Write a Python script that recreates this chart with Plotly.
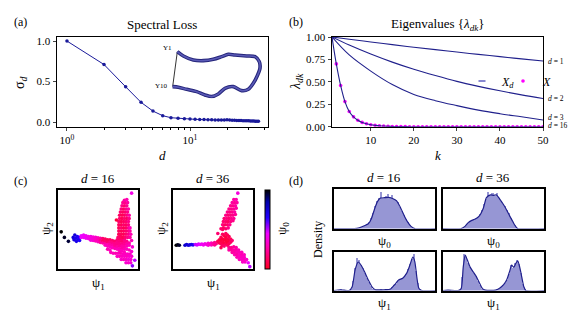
import plotly.graph_objects as go

W, H = 577, 314
SERIF = "Liberation Serif"
BLUE = "#1a1a9a"
LBLUE = "#20208c"
MAG = "#ff00ff"

def fx(px):
    return px / W

def fy(py):
    return 1 - py / H

# ---------------- data ----------------
# (a) spectral loss
d_vals = [1, 2, 3, 4, 5, 6, 7, 8, 9, 10, 11, 12, 13, 14, 15, 16, 17, 18,
          19, 20, 21, 22, 23, 24, 25, 26, 27, 28, 29, 30, 31, 32, 33, 34, 35, 36]
sigma_d = [1.0, 0.71, 0.435, 0.243, 0.135, 0.078, 0.053, 0.045, 0.040, 0.036,
           0.033, 0.031, 0.030, 0.028, 0.027, 0.026, 0.025, 0.024, 0.026, 0.027,
           0.025, 0.022, 0.021, 0.020, 0.019, 0.018, 0.017, 0.016, 0.015, 0.014,
           0.013, 0.012, 0.011, 0.010, 0.009, 0.008]
# inset loop (Y1 ... Y10)
loop_x = [52, 70, 100, 130, 160, 185, 205, 225, 260, 285, 298, 300, 293, 280,
          265, 245, 220, 195, 175, 155, 135, 110, 80, 55, 38]
loop_y = [185, 172, 160, 158, 162, 170, 177, 175, 172, 170, 155, 135, 115, 90,
          72, 68, 80, 75, 58, 50, 55, 65, 72, 78, 80]

# (b) eigenvalues
k_sparse = [1, 5, 10, 15, 20, 25, 30, 35, 40, 45, 50]
lam_d1 = [1.0, 0.975, 0.945, 0.915, 0.886, 0.859, 0.832, 0.806, 0.781, 0.756, 0.733]
lam_d2 = [1.0, 0.91, 0.81, 0.72, 0.64, 0.57, 0.505, 0.45, 0.40, 0.355, 0.315]
lam_d3 = [1.0, 0.80, 0.62, 0.47, 0.36, 0.29, 0.235, 0.185, 0.145, 0.11, 0.075]
k_full = [1, 2, 3, 4, 5, 6, 7, 8, 9, 10, 11, 12, 13, 14, 15, 16, 17, 18, 19, 20,
          21, 22, 23, 24, 25, 26, 27, 28, 29, 30, 31, 32, 33, 34, 35, 36, 37, 38,
          39, 40, 41, 42, 43, 44, 45, 46, 47, 48, 49, 50]
lam_d16 = [1.0, 0.70, 0.46, 0.28, 0.17, 0.11, 0.072, 0.048, 0.033, 0.022,
           0.015, 0.010, 0.007, 0.005, 0.003, 0.002, 0.001, 0.001, 0.0, 0.0,
           0.0, 0.0, 0.0, 0.0, 0.0, 0.0, 0.0, 0.0, 0.0, 0.0,
           0.0, 0.0, 0.0, 0.0, 0.0, 0.0, 0.0, 0.0, 0.0, 0.0,
           0.0, 0.0, 0.0, 0.0, 0.0, 0.0, 0.0, 0.0, 0.0, 0.0]
lam_X = [1.0, 0.70, 0.46, 0.28, 0.17, 0.11, 0.072, 0.048, 0.033, 0.022,
         0.015, 0.010, 0.007, 0.005, 0.003, 0.002, 0.001, 0.001, 0.0, 0.0,
         0.0, 0.0, 0.0, 0.0, 0.0, 0.0, 0.0, 0.0, 0.0, 0.0,
         0.0, 0.0, 0.0, 0.0, 0.0, 0.0, 0.0, 0.0, 0.0, 0.0,
         0.0, 0.0, 0.0, 0.0, 0.0, 0.0, 0.0, 0.0, 0.0, 0.0]
curve_labels = ["d = 1", "d = 2", "d = 3", "d = 16"]

# (c) embeddings (psi1, psi2, psi0)
c16_points = [
    (4, 47, 1.0), (8, 40, 0.97), (13, 35, 0.95),
    (19, 40, .75), (20, 37, .72), (21, 43, .74), (22, 39, .70), (23, 35, .70),
    (24, 41, .68), (25, 37, .70), (26, 40, .66), (27, 36, .66),
    (29, 42, .45), (29, 40, .45), (32, 43, .44), (32, 40, .44), (35, 42, .42), (35, 39, .42),
    (38, 41, .40), (38, 38.5, .40), (41, 41, .38), (41, 38, .38), (41, 36.5, .37),
    (44, 40.5, .36), (44, 38, .35), (44, 36, .35), (47, 40, .33), (47, 37.5, .33), (47, 35.5, .30),
    (50, 39.5, .30), (50, 37, .28), (50, 34.5, .30), (53, 39, .25), (53, 36, .20), (53, 33.5, .25),
    (56, 38.5, .15), (56, 35.5, .12), (56, 33, .25), (59, 38, .12), (59, 35, .15), (59, 32, .25),
    (59, 30, .30), (62, 37, .10), (62, 34, .15), (62, 31, .28), (62, 29, .30), (65, 37, .12),
    (65, 34, .20), (65, 31, .25), (65, 28, .30), (68, 36, .15), (68, 33, .20), (68, 30, .25), (68, 27, .30),
    (71, 35, .15), (71, 32, .20), (71, 29, .22), (71, 26, .28), (74, 37, .15), (74, 34, .20),
    (74, 31, .20), (74, 28, .25), (74, 25, .30), (77, 38, .12), (77, 35, .18), (77, 32, .20),
    (77, 29, .22), (77, 26, .28), (77, 23, .30), (80, 38, .15), (80, 35, .15), (80, 32, .20),
    (80, 29, .25), (80, 26, .25), (80, 23, .30), (83, 37, .20), (83, 34, .20), (83, 31, .22),
    (83, 28, .25), (83, 25, .28), (83, 21, .30), (86, 35, .20), (86, 32, .25), (86, 29, .28),
    (86, 25, .30), (89, 33, .25), (89, 30, .30),
    (75, 40, .15), (78, 41, .12), (81, 40, .10), (84, 40, .15), (87, 40, .20), (90, 40, .25),
    (76, 44, .10), (79, 44, .12), (82, 44, .10), (85, 44, .15), (88, 44, .20), (91, 44, .28),
    (76, 48, .12), (79, 48, .10), (82, 48, .12), (85, 48, .15), (88, 48, .18), (90, 48, .25),
    (76, 52, .10), (79, 52, .15), (82, 52, .10), (85, 52, .12), (88, 52, .20), (90, 52, .30),
    (76, 56, .12), (79, 56, .10), (82, 56, .15), (85, 56, .12), (88, 56, .18),
    (76, 60, .15), (79, 60, .10), (82, 60, .12), (85, 60, .15), (88, 60, .20),
    (77, 64, .15), (80, 64, .10), (83, 64, .15), (86, 64, .12), (89, 64, .20),
    (77, 68, .12), (80, 68, .10), (83, 68, .12), (86, 68, .18), (89, 68, .25),
    (78, 72, .15), (81, 72, .12), (84, 72, .15), (87, 72, .20),
    (79, 76, .18), (82, 76, .12), (85, 76, .20), (88, 76, .25),
    (80, 80, .20), (83, 80, .15), (86, 80, .22),
    (81, 84, .22), (84, 84, .20), (87, 84, .25), (83, 87, .25), (86, 88, .28),
    (73, 62, .05), (92, 96, .40),
    (66, 21, .30), (69, 20, .30), (72, 20, .28), (75, 20, .30), (78, 20, .28), (81, 19, .30),
    (84, 19, .30), (87, 19, .32), (90, 19, .30),
    (74, 16, .32), (77, 16, .30), (80, 16, .30), (83, 16, .32), (86, 16, .30), (89, 16, .33), (92, 16, .35),
    (79, 12, .33), (82, 12, .30), (85, 12, .32), (88, 12, .35), (91, 12, .33),
    (85, 8, .35), (88, 8, .33), (91, 8, .35),
    (62, 25, .28), (65, 24, .30), (89, 24, .30), (92, 22, .35), (92, 36, .30), (93, 28, .35),
    (96, 11, .50), (93, 4, .55),
]
c36_points = [
    (4, 30, 1.0), (6, 30.5, 0.98), (8, 30, 0.96),
    (15, 30, .78), (17, 31, .75), (19, 30, .73), (21, 30.5, .72), (23, 31, .70), (25, 30.5, .68),
    (28, 31, .50), (30, 30.5, .48), (32, 31.5, .47), (34, 31, .45), (36, 31.5, .43), (38, 30.5, .42),
    (40, 32, .40), (42, 31, .38), (44, 32.5, .36), (44, 30, .36), (46, 31.5, .33), (48, 33, .30),
    (48, 30.5, .30), (50, 32, .25), (52, 33.5, .22), (52, 30.5, .22), (54, 32, .20),
    (56, 35, .10), (58, 37, .08), (58, 33, .10), (60, 40, .10), (60, 36, .06), (60, 32, .10),
    (62, 44, .12), (62, 38, .05), (62, 34, .08), (62, 30, .12), (64, 42, .08), (64, 37, .05),
    (64, 33, .06), (64, 29, .15), (66, 45, .12), (66, 40, .06), (66, 36, .05), (66, 32, .10),
    (68, 43, .10), (68, 38, .08), (68, 34, .05), (68, 30, .12), (70, 41, .10), (70, 36, .06),
    (70, 32, .10), (72, 38, .10), (72, 34, .12), (74, 36, .15), (60, 27, .10), (56, 45, .15), (62, 50, .12),
    (60, 51, .15), (63, 52, .12), (66, 51, .15), (69, 52, .20),
    (62, 56, .18), (65, 56, .12), (68, 56, .15), (71, 56, .20),
    (63, 60, .15), (66, 60, .15), (69, 60, .12), (72, 60, .18), (75, 61, .20),
    (64, 64, .15), (67, 64, .18), (70, 64, .15), (73, 64, .20), (76, 64, .22),
    (66, 68, .20), (69, 68, .15), (72, 68, .18), (75, 68, .20), (78, 69, .22),
    (68, 72, .20), (71, 72, .18), (74, 72, .20), (77, 72, .25),
    (70, 76, .20), (73, 76, .20), (76, 76, .22), (79, 77, .25),
    (72, 80, .22), (75, 80, .20), (78, 80, .25),
    (74, 84, .25), (77, 84, .22), (80, 84, .25), (76, 88, .25), (79, 88, .28),
    (81, 96, .38),
    (70, 27, .20), (73, 27, .20), (76, 28, .22), (79, 27, .25),
    (70, 24, .25), (73, 24, .22), (76, 24, .25), (79, 24, .25), (82, 24, .28),
    (74, 21, .25), (77, 21, .25), (80, 21, .28), (83, 21, .28), (86, 21, .30),
    (77, 18, .28), (80, 18, .25), (83, 18, .30), (86, 18, .28), (89, 18, .30),
    (80, 15, .28), (83, 15, .30), (86, 15, .30), (89, 15, .32),
    (83, 12, .30), (86, 12, .32), (89, 12, .30), (92, 12, .33),
    (87, 9, .32), (90, 9, .33),
    (94, 8, .45), (96, 3, .50),
]

# (d) histograms: 50 bins on [0, 1] (bin heights) and KDE curves
hist_psi0_d16 = [0, 0, 0, 0, 0, 0, 0, 0, 0, 0,
                 0.0, 0.01, 0.02, 0.03, 0.06, 0.08, 0.11, 0.16, 0.26, 0.40,
                 0.56, 0.70, 0.78, 0.93, 0.76, 0.82, 0.88, 0.80, 0.85, 0.74,
                 0.72, 0.66, 0.55, 0.45, 0.34, 0.25, 0.16, 0.08, 0.04, 0.01,
                 0, 0, 0, 0, 0, 0, 0, 0, 0, 0]
hist_psi0_d36 = [0, 0, 0, 0, 0, 0, 0, 0, 0,
                 0.01, 0.04, 0.10, 0.15, 0.19, 0.21, 0.24, 0.26, 0.30, 0.36,
                 0.46, 0.62, 0.74, 0.92, 0.85, 0.90, 0.82, 0.90, 0.78, 0.70,
                 0.62, 0.56, 0.46, 0.38, 0.26, 0.17, 0.08, 0.02,
                 0, 0, 0, 0, 0, 0, 0, 0, 0, 0, 0, 0, 0]
hist_psi1_d16 = [0, 0, 0.02, 0.03, 0.02, 0.01, 0, 0, 0.04, 0.25,
                 0.58, 0.85, 0.78, 0.66, 0.58, 0.46, 0.33, 0.22, 0.12, 0.05,
                 0.02, 0.01, 0.02, 0.03, 0.02, 0.01, 0.03, 0.05, 0.08, 0.13,
                 0.18, 0.24, 0.30, 0.32, 0.36, 0.42, 0.55, 0.70, 0.82, 0.96,
                 0.50, 0.20, 0.04, 0, 0, 0, 0, 0, 0, 0]
hist_psi1_d36 = [0, 0.01, 0.01, 0.01, 0, 0, 0, 0, 0.02, 0.35,
                 0.96, 0.88, 0.72, 0.62, 0.52, 0.46, 0.38, 0.24, 0.13, 0.05,
                 0.02, 0.01, 0.01, 0.01, 0.01, 0.02, 0.03, 0.05, 0.09, 0.14,
                 0.20, 0.28, 0.44, 0.66, 0.58, 0.72, 0.80, 0.70, 0.45, 0.18,
                 0.04, 0, 0, 0, 0, 0, 0, 0, 0, 0]
kde_psi0_d16_x = [0, 0.20, 0.25, 0.30, 0.34, 0.37, 0.40, 0.43, 0.46, 0.50, 0.54, 0.58,
                  0.62, 0.66, 0.70, 0.73, 0.76, 0.80, 1.0]
kde_psi0_d16_y = [0, 0, 0.02, 0.07, 0.12, 0.25, 0.48, 0.68, 0.77, 0.78, 0.79, 0.76,
                  0.70, 0.52, 0.30, 0.16, 0.06, 0.0, 0]
kde_psi0_d36_x = [0, 0.18, 0.22, 0.25, 0.28, 0.32, 0.36, 0.40, 0.43, 0.47, 0.50, 0.53,
                  0.56, 0.60, 0.63, 0.66, 0.69, 0.72, 0.74, 1.0]
kde_psi0_d36_y = [0, 0, 0.06, 0.15, 0.20, 0.24, 0.32, 0.52, 0.78, 0.85, 0.84, 0.85,
                  0.75, 0.60, 0.47, 0.32, 0.18, 0.05, 0, 0]
kde_psi1_d16_x = [0, 0.06, 0.10, 0.15, 0.18, 0.21, 0.24, 0.27, 0.30, 0.34, 0.38, 0.41,
                  0.50, 0.56, 0.60, 0.64, 0.68, 0.72, 0.75, 0.78, 0.80, 0.82, 0.84, 0.87, 1.0]
kde_psi1_d16_y = [0, 0.02, 0.01, 0, 0.10, 0.55, 0.74, 0.65, 0.50, 0.27, 0.08, 0.02,
                  0.02, 0.04, 0.15, 0.27, 0.32, 0.45, 0.65, 0.87, 0.75, 0.35, 0.06, 0, 0]
kde_psi1_d36_x = [0, 0.05, 0.15, 0.18, 0.20, 0.22, 0.24, 0.27, 0.30, 0.33, 0.36, 0.39,
                  0.42, 0.52, 0.56, 0.60, 0.63, 0.66, 0.68, 0.70, 0.72, 0.74, 0.76,
                  0.78, 0.80, 0.82, 1.0]
kde_psi1_d36_y = [0, 0.01, 0, 0.05, 0.60, 0.92, 0.80, 0.60, 0.48, 0.36, 0.20, 0.05,
                  0.01, 0.01, 0.06, 0.15, 0.27, 0.50, 0.66, 0.60, 0.70, 0.77, 0.60,
                  0.35, 0.10, 0, 0]

# ---------------- figure ----------------
fig = go.Figure()

# (a)
fig.add_trace(go.Scatter(x=d_vals, y=sigma_d, mode="lines+markers",
                         line=dict(color=BLUE, width=1), marker=dict(size=3.5, color=BLUE),
                         xaxis="x", yaxis="y", showlegend=False))
fig.add_trace(go.Scatter(x=[loop_x[0], loop_x[-1]], y=[loop_y[0], loop_y[-1]], mode="lines",
                         line=dict(color="black", width=0.8), xaxis="x2", yaxis="y2", showlegend=False))
fig.add_trace(go.Scatter(x=loop_x, y=loop_y, mode="lines",
                         line=dict(color="#25257a", width=3.6, shape="spline", smoothing=0.8),
                         xaxis="x2", yaxis="y2", showlegend=False))
fig.add_trace(go.Scatter(x=loop_x, y=loop_y, mode="lines",
                         line=dict(color="#5a5ab6", width=1.6, shape="spline", smoothing=0.8),
                         xaxis="x2", yaxis="y2", showlegend=False))

# (b)
fig.add_trace(go.Scatter(x=k_full, y=lam_X, mode="markers", name="<i>X</i>",
                         marker=dict(size=3.6, color=MAG), xaxis="x3", yaxis="y3",
                         legend="legend2"))
for lam, ks in [(lam_d1, k_sparse), (lam_d2, k_sparse), (lam_d3, k_sparse), (lam_d16, k_full)]:
    fig.add_trace(go.Scatter(x=ks, y=lam, mode="lines", line=dict(color=LBLUE, width=1.1, shape="spline"),
                             xaxis="x3", yaxis="y3", showlegend=False))
fig.add_trace(go.Scatter(x=[None], y=[None], mode="markers", name="<i>X<sub>d</sub></i>",
                         marker=dict(symbol="line-ew", size=5, line=dict(color="#6060c0", width=1.5)),
                         xaxis="x3", yaxis="y3", legend="legend"))

# (c)
CS = [[0.0, "#ff0022"], [0.3, "#ff00bb"], [0.45, "#ee00ff"], [0.65, "#2200ff"],
      [0.85, "#0000aa"], [1.0, "#000000"]]
for pts, xa, ya in [(c16_points, "x4", "y4"), (c36_points, "x5", "y5")]:
    fig.add_trace(go.Scatter(x=[p[0] for p in pts], y=[p[1] for p in pts], mode="markers",
                             marker=dict(size=3.6, color=[p[2] for p in pts], coloraxis="coloraxis"),
                             xaxis=xa, yaxis=ya, showlegend=False))

# (d)
hists = [(hist_psi0_d16, kde_psi0_d16_x, kde_psi0_d16_y, "x6", "y6"),
         (hist_psi0_d36, kde_psi0_d36_x, kde_psi0_d36_y, "x7", "y7"),
         (hist_psi1_d16, kde_psi1_d16_x, kde_psi1_d16_y, "x8", "y8"),
         (hist_psi1_d36, kde_psi1_d36_x, kde_psi1_d36_y, "x9", "y9")]
for hv, kx, ky, xa, ya in hists:
    fig.add_trace(go.Bar(y=hv, x0=0.01, dx=0.02, marker=dict(color="rgba(85,85,185,0.62)",
                         line=dict(width=0)), xaxis=xa, yaxis=ya, showlegend=False))
    fig.add_trace(go.Scatter(x=kx, y=ky, mode="lines", line=dict(color=LBLUE, width=1.2, shape="spline",
                             smoothing=0.6), xaxis=xa, yaxis=ya, showlegend=False))

# ---------------- layout ----------------
tickfont = dict(family=SERIF, size=11, color="black")

def frame(dom_x, dom_y, anchor, rng, lw=1.0, **kw):
    base = dict(domain=dom_x if dom_y is None else dom_y, anchor=anchor, range=rng,
                showline=True, mirror=True, linecolor="black", linewidth=lw,
                showgrid=False, zeroline=False, tickfont=tickfont, automargin=False)
    base.update(kw)
    return base

A_X = [fx(57), fx(268)]
A_Y = [fy(126.7), fy(37)]
B_X = [fx(332), fx(543)]
C1_X = [fx(58), fx(138)]
C2_X = [fx(173), fx(253)]
C_Y = [fy(269), fy(190)]
D1_X = [fx(334), fx(435)]
D2_X = [fx(443), fx(544)]
DT_Y = [fy(228.5), fy(189)]
DB_Y = [fy(290.5), fy(252)]

noticks = dict(showticklabels=False, ticks="")
legfont = dict(family=SERIF, size=12, color="black")
lay = dict(
    template="none",
    width=W, height=H, margin=dict(l=0, r=0, t=0, b=0, pad=0, autoexpand=False),
    plot_bgcolor="white", paper_bgcolor="white", bargap=0,
    font=dict(family=SERIF, color="black"),
    xaxis=frame(A_X, None, "y", [-0.081, 1.634], type="log", tickvals=[1, 10],
                ticktext=["10<sup>0</sup>", "10<sup>1</sup>"], ticks="outside", ticklen=3.5,
                minor=dict(tickvals=[2, 3, 4, 5, 6, 7, 8, 9, 20, 30, 40], ticks="outside",
                           ticklen=2, tickcolor="black")),
    yaxis=frame(None, A_Y, "x", [-0.058, 1.05], tickvals=[0, 0.5, 1.0],
                ticktext=["0.0", "0.5", "1.0"], ticks="outside", ticklen=3.5),
    xaxis2=dict(domain=[fx(170), fx(263.3)], anchor="y2", range=[30, 310], visible=False),
    yaxis2=dict(domain=[fy(98.3), fy(50)], anchor="x2", range=[45, 190], visible=False),
    xaxis3=frame(B_X, None, "y3", [1, 50], tickvals=[10, 20, 30, 40, 50], ticks="outside", ticklen=3.5),
    yaxis3=frame(None, A_Y, "x3", [0, 1], tickvals=[0, 0.25, 0.5, 0.75, 1.0],
                 ticktext=["0.00", "0.25", "0.50", "0.75", "1.00"], ticks="outside", ticklen=3.5),
    xaxis4=frame(C1_X, None, "y4", [0, 100], lw=1.5, **noticks),
    yaxis4=frame(None, C_Y, "x4", [0, 100], lw=1.5, **noticks),
    xaxis5=frame(C2_X, None, "y5", [0, 100], lw=1.5, **noticks),
    yaxis5=frame(None, C_Y, "x5", [0, 100], lw=1.5, **noticks),
    xaxis6=frame(D1_X, None, "y6", [0, 1], lw=1.5, **noticks),
    yaxis6=frame(None, DT_Y, "x6", [0, 1], lw=1.5, **noticks),
    xaxis7=frame(D2_X, None, "y7", [0, 1], lw=1.5, **noticks),
    yaxis7=frame(None, DT_Y, "x7", [0, 1], lw=1.5, **noticks),
    xaxis8=frame(D1_X, None, "y8", [0, 1], lw=1.5, **noticks),
    yaxis8=frame(None, DB_Y, "x8", [0, 1], lw=1.5, **noticks),
    xaxis9=frame(D2_X, None, "y9", [0, 1], lw=1.5, **noticks),
    yaxis9=frame(None, DB_Y, "x9", [0, 1], lw=1.5, **noticks),
    coloraxis=dict(colorscale=CS, cmin=0, cmax=1,
                   colorbar=dict(x=fx(265), xanchor="left", y=fy(269), yanchor="bottom",
                                 len=79 / H, lenmode="fraction", thickness=5, thicknessmode="pixels",
                                 xpad=0, ypad=0, outlinewidth=1, outlinecolor="black",
                                 showticklabels=False, ticks="")),
    legend=dict(x=fx(462), y=fy(81), xanchor="left", yanchor="middle",
                bgcolor="rgba(0,0,0,0)", font=legfont, itemwidth=30),
    legend2=dict(x=fx(503), y=fy(81), xanchor="left", yanchor="middle",
                 bgcolor="rgba(0,0,0,0)", font=legfont, itemwidth=30),
)
fig.update_layout(**lay)

ann = []
def text(px, py, s, size=12, angle=0, xanchor="center"):
    ann.append(dict(x=fx(px), y=fy(py), xref="paper", yref="paper",
                    text=s, showarrow=False, textangle=angle, xanchor=xanchor, yanchor="middle",
                    font=dict(family=SERIF, size=size, color="black")))

text(20, 22, "(a)", 12)
text(296, 22, "(b)", 12)
text(20, 181, "(c)", 12)
text(296, 181, "(d)", 12)
text(162, 25, "Spectral Loss", 13)
text(438, 25, "Eigenvalues {<i>λ<sub>dk</sub></i>}", 13)
text(20, 83, "σ<sub><i>d</i></sub>", 14, angle=-90)
text(162, 155, "<i>d</i>", 13)
text(297, 82, "<i>λ<sub>dk</sub></i>", 14, angle=-90)
text(438, 155, "<i>k</i>", 13)
# inset labels
text(174, 48, "Y1", 7, xanchor="right")
text(170, 86, "Y10", 7, xanchor="right")
# curve labels
for lab, py in zip(curve_labels, [61, 98.5, 117, 125]):
    n = lab.split(" = ")
    text(546, py, "<i>" + n[0] + "</i> = " + n[1], 7.5, xanchor="left")
# (c)
text(98, 178, "<i>d</i> = 16", 13)
text(213, 178, "<i>d</i> = 36", 13)
text(98, 283, "ψ<sub>1</sub>", 13)
text(213, 283, "ψ<sub>1</sub>", 13)
text(47, 229, "ψ<sub>2</sub>", 13, angle=-90)
text(162, 229, "ψ<sub>2</sub>", 13, angle=-90)
text(283, 229, "ψ<sub>0</sub>", 13, angle=-90)
# (d)
text(384, 177, "<i>d</i> = 16", 13)
text(493, 177, "<i>d</i> = 36", 13)
text(384, 241, "ψ<sub>0</sub>", 13)
text(493, 241, "ψ<sub>0</sub>", 13)
text(384, 303, "ψ<sub>1</sub>", 13)
text(493, 303, "ψ<sub>1</sub>", 13)
text(318, 240, "Density", 12, angle=-90)

fig.update_layout(annotations=ann)
fig.write_html("out.html", config={"displayModeBar": False},
               post_script="document.body.style.margin='0px';document.body.style.overflow='hidden';")
